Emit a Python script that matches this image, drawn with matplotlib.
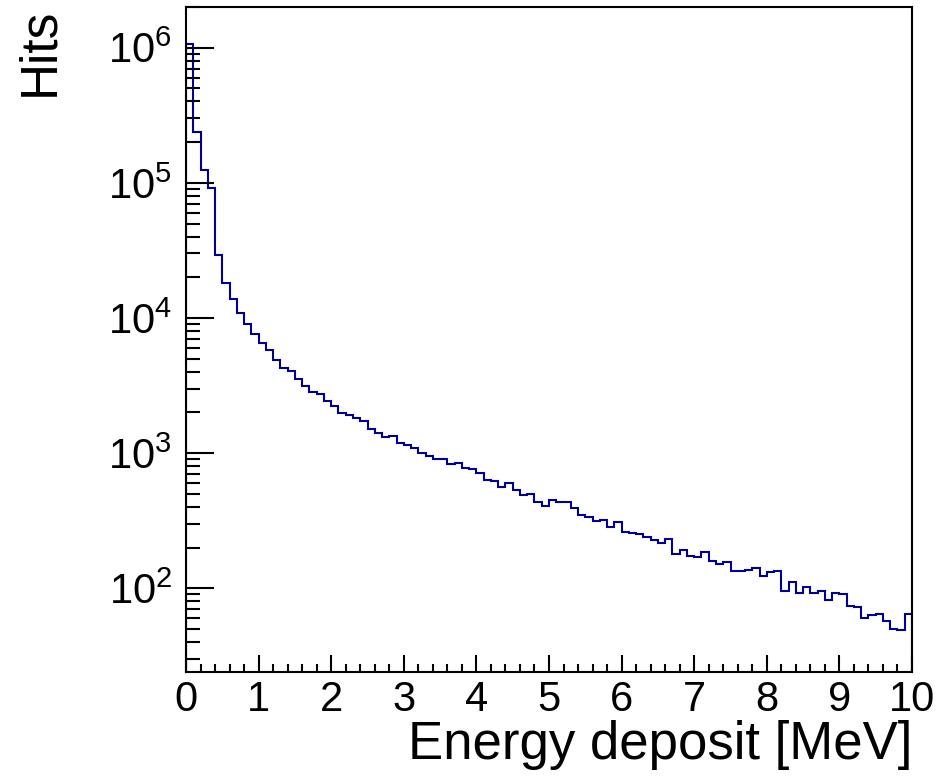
import numpy as np
import matplotlib
matplotlib.use("Agg")
import matplotlib.pyplot as plt
from matplotlib.ticker import LogLocator, MultipleLocator, LogFormatterMathtext, NullFormatter

plt.rcParams['font.family'] = ['Liberation Sans', 'DejaVu Sans']
plt.rcParams['mathtext.fontset'] = 'custom'
plt.rcParams['mathtext.rm'] = 'Liberation Sans'
plt.rcParams['mathtext.it'] = 'Liberation Sans:italic'
plt.rcParams['mathtext.bf'] = 'Liberation Sans:bold'

# energy deposit histogram, 100 bins of 0.1 MeV
bin_edges = np.linspace(0.0, 10.0, 101)
hits = [
    1.06e6, 2.37e5, 1.24e5, 9.1e4, 2.94e4, 1.82e4, 1.37e4, 1.09e4, 9030, 7610,
    6530, 5760, 4910, 4230, 4070, 3550, 3150, 2810, 2740, 2450,
    2240, 1980, 1900, 1820, 1740, 1510, 1410, 1310, 1330, 1190,
    1140, 1100, 1000, 944, 903, 908, 834, 844, 774, 765,
    711, 634, 617, 560, 605, 535, 489, 502, 433, 409,
    451, 433, 438, 391, 349, 339, 317, 321, 286, 311,
    262, 255, 251, 241, 228, 218, 231, 179, 192, 174,
    169, 184, 160, 151, 157, 134, 134, 136, 141, 124,
    131, 134, 96, 112, 93, 102, 93, 96, 82, 93,
    90, 74, 73, 60, 63, 65, 57, 50, 49, 64,
]

fig = plt.figure(figsize=(9.4, 7.8), dpi=100)
ax = fig.add_axes([186 / 940, 1 - 672 / 780, 726 / 940, 665 / 780])

ax.stairs(hits, bin_edges, color='#000099', lw=1.5)

ax.set_yscale('log')
ax.set_xlim(0, 10)
ax.set_ylim(24, 2.0e6)

ax.xaxis.set_major_locator(MultipleLocator(1))
ax.xaxis.set_minor_locator(MultipleLocator(0.2))
ax.yaxis.set_major_locator(LogLocator(base=10))
ax.yaxis.set_minor_locator(LogLocator(base=10, subs=np.arange(2, 10)))
ax.yaxis.set_major_formatter(LogFormatterMathtext())
ax.yaxis.set_minor_formatter(NullFormatter())

ax.tick_params(axis='both', which='both', direction='in', top=False, right=False,
               width=1.5, labelsize=30, colors='black')
ax.tick_params(axis='x', which='major', length=12, pad=6)
ax.tick_params(axis='x', which='minor', length=6)
ax.tick_params(axis='y', which='major', length=20, pad=10)
ax.tick_params(axis='y', which='minor', length=10)

for sp in ax.spines.values():
    sp.set_linewidth(1.5)

ax.set_xlabel('Energy deposit [MeV]', fontsize=38, loc='right', va='top')
ax.xaxis.set_label_coords(1.0, -0.072)

# axis title on the left, running upwards from the top corner
fig.text(40 / 940, 1 - 8 / 780, 'Hits', fontsize=37, rotation=90,
         ha='center', va='top')

fig.savefig('out.png', dpi=100)
